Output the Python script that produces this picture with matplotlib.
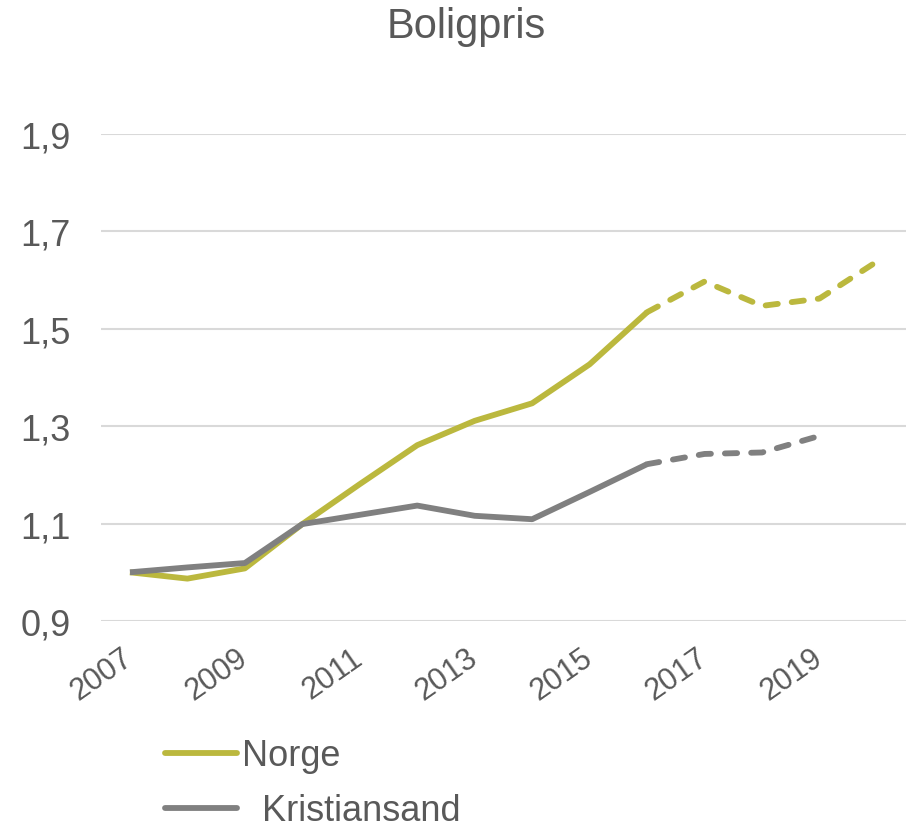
import numpy as np
import matplotlib.pyplot as plt
from matplotlib.lines import Line2D

years = [2007, 2008, 2009, 2010, 2011, 2012, 2013, 2014, 2015, 2016, 2017, 2018, 2019, 2020]
norge = [1.0, 0.987, 1.008, 1.099, 1.181, 1.261, 1.311, 1.347, 1.427, 1.534, 1.597, 1.547, 1.562, 1.638]
kristiansand = [1.0, 1.01, 1.019, 1.099, 1.118, 1.137, 1.116, 1.109, 1.165, 1.222, 1.243, 1.246, 1.28]
forecast_start = 2016
y_ticks = [0.9, 1.1, 1.3, 1.5, 1.7, 1.9]
x_ticks = [2007, 2009, 2011, 2013, 2015, 2017, 2019]

c_norge = '#BBB83E'
c_krs = '#808080'
c_text = '#595959'


def main():
    plt.rcParams['font.family'] = ['Liberation Sans', 'DejaVu Sans']
    fig = plt.figure(figsize=(9.12, 8.29), dpi=100)
    ax = fig.add_axes([0.111, 0.2497, 0.882, 0.5875])

    lw = 4.2
    for vals, col in [(norge, c_norge), (kristiansand, c_krs)]:
        x = np.array(years[:len(vals)])
        v = np.array(vals)
        solid = x <= forecast_start
        dash = x >= forecast_start
        ax.plot(x[solid], v[solid], color=col, lw=lw, solid_capstyle='butt', zorder=3)
        ax.plot(x[dash], v[dash], color=col, lw=lw, linestyle=(0, (2.1, 2.4)),
                dash_capstyle='round', zorder=3)

    ax.set_xlim(2006.5, 2020.5)
    ax.set_ylim(0.9, 1.9)
    ax.set_yticks(y_ticks)
    ax.set_yticklabels([f'{t:.1f}'.replace('.', ',') for t in y_ticks])
    ax.set_xticks(x_ticks)
    ax.set_xticklabels([str(t) for t in x_ticks], rotation=35, ha='right',
                       va='center', rotation_mode='anchor')
    ax.tick_params(axis='y', length=0, pad=22, labelsize=26, labelcolor=c_text)
    ax.tick_params(axis='x', length=0, pad=24, labelsize=22, labelcolor=c_text)
    ax.grid(axis='y', color='#D9D9D9', lw=1.5)
    ax.set_axisbelow(True)
    for s in ax.spines.values():
        s.set_visible(False)

    fig.text(0.511, 0.968, 'Boligpris', ha='center', va='center', fontsize=30, color=c_text)

    handles = [Line2D([], [], color=c_norge, lw=lw, solid_capstyle='round'),
               Line2D([], [], color=c_krs, lw=lw, solid_capstyle='round')]
    leg = fig.legend(handles, ['Norge', '  Kristiansand'], loc='upper left',
                     bbox_to_anchor=(0.181, 0.108), frameon=False, fontsize=26,
                     handlelength=2.0, handletextpad=0.14, labelspacing=0.55,
                     borderpad=0, borderaxespad=0)
    for t in leg.get_texts():
        t.set_color(c_text)

    fig.savefig('out.png', dpi=100)


if __name__ == '__main__':
    main()
